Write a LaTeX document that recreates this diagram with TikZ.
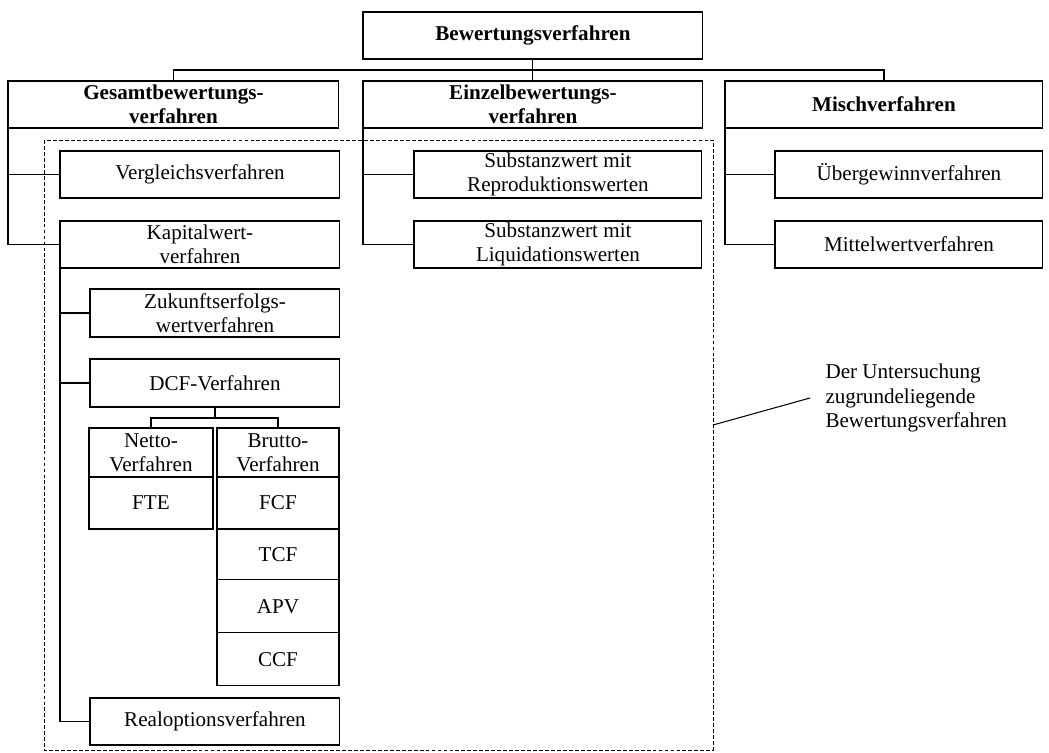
\documentclass[tikz,border=0pt]{standalone}
\usepackage{fontspec}
\setmainfont{Liberation Serif}

\tikzset{
  box/.style={draw,anchor=north west,outer sep=0pt,inner sep=1pt,align=center,
    minimum height=0.94cm,font=\fontsize{12}{13.8}\selectfont},
  head/.style={box,font=\fontsize{12}{13.8}\selectfont\bfseries},
  note/.style={anchor=west,inner sep=0pt,align=left,font=\fontsize{12}{14.2}\selectfont}
}

\begin{document}
\begin{tikzpicture}[x=0.02cm,y=-0.02cm,line width=0.6pt]
  \useasboundingbox (0,0) rectangle (1049,753);
  \node[head,minimum width=6.8cm] (bew) at (363,12) {Bewertungsverfahren};
  \node[head,minimum width=6.62cm] (gesamt) at (8,81) {Gesamtbewertungs-\\verfahren};
  \node[head,minimum width=6.8cm] (einzel) at (363,81) {Einzelbewertungs-\\verfahren};
  \node[head,minimum width=6.36cm] (misch) at (725,81) {Mischverfahren};

  \node[box,minimum width=5.6cm] (vergl) at (60,151) {Vergleichsverfahren};
  \node[box,minimum width=5.6cm] (kapw) at (60,221) {Kapitalwert-\\verfahren};
  \node[box,minimum width=5.76cm] (repro) at (414,151) {Substanzwert mit\\Reproduktionswerten};
  \node[box,minimum width=5.76cm] (liqui) at (414,221) {Substanzwert mit\\Liquidationswerten};
  \node[box,minimum width=5.36cm] (uebg) at (775,151) {Übergewinnverfahren};
  \node[box,minimum width=5.36cm] (mittel) at (775,221) {Mittelwertverfahren};

  \node[box,minimum width=5cm,minimum height=0.96cm] (zukunft) at (90,289) {Zukunftserfolgs-\\wertverfahren};
  \node[box,minimum width=5cm,minimum height=0.96cm] (dcf) at (90,359) {DCF-Verfahren};
  \node[box,minimum width=2.48cm,minimum height=0.98cm] (netto) at (89,428) {Netto-\\Verfahren};
  \node[box,minimum width=2.48cm,minimum height=1.04cm] (fte) at (netto.south west) {FTE};
  \node[box,minimum width=2.44cm,minimum height=0.98cm] (brutto) at (217,428) {Brutto-\\Verfahren};
  \node[box,minimum width=2.44cm,minimum height=1.04cm] (fcf) at (brutto.south west) {FCF};
  \node[box,minimum width=2.44cm,minimum height=1.02cm] (tcf) at (fcf.south west) {TCF};
  \node[box,minimum width=2.44cm,minimum height=1.06cm] (apv) at (tcf.south west) {APV};
  \node[box,minimum width=2.44cm,minimum height=1.06cm] (ccf) at (apv.south west) {CCF};
  \node[box,minimum width=5cm] (realopt) at (90,698) {Realoptionsverfahren};

  \coordinate (bus) at (0,70);
  \draw (bew.south) -- (einzel.north);
  \draw (gesamt.north) -- (gesamt.north |- bus) -| (misch.north);
  \draw (gesamt.south west) |- (vergl.west);
  \draw (gesamt.south west) |- (kapw.west);
  \draw (einzel.south west) |- (repro.west);
  \draw (einzel.south west) |- (liqui.west);
  \draw (misch.south west) |- (uebg.west);
  \draw (misch.south west) |- (mittel.west);
  \draw (kapw.south west) |- (zukunft.west);
  \draw (kapw.south west) |- (dcf.west);
  \draw (kapw.south west) |- (realopt.west);
  \coordinate (split) at ([yshift=-0.22cm]dcf.south);
  \draw (dcf.south) -- (split);
  \draw (netto.north) |- (split) -| (brutto.north);

  \draw[dash pattern=on 2.2pt off 1.2pt,line width=0.5pt] (44,140) rectangle (713,750);
  \node[note] (note) at (825,398) {Der Untersuchung\\zugrundeliegende\\Bewertungsverfahren};
  \coordinate (mark) at (713,425);
  \draw (mark) -- ([xshift=-0.3cm]note.west);
\end{tikzpicture}
\end{document}
